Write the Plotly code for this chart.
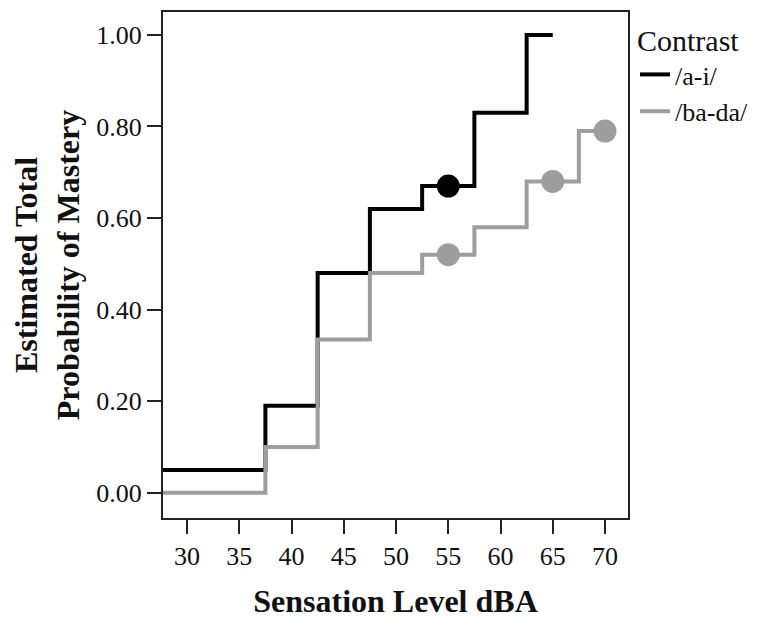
import plotly.graph_objects as go

# Step-function data (x = sensation level dBA where step begins)
levels_ai = [27.5, 37.5, 42.5, 47.5, 52.5, 57.5, 62.5, 65]
prob_ai = [0.05, 0.19, 0.48, 0.62, 0.67, 0.83, 1.00, 1.00]
levels_bada = [27.5, 37.5, 42.5, 47.5, 52.5, 57.5, 62.5, 67.5, 70]
prob_bada = [0.00, 0.10, 0.335, 0.48, 0.52, 0.58, 0.68, 0.79, 0.79]

# Censored points (markers)
cens_ai_x = [55]
cens_ai_y = [0.67]
cens_bada_x = [55, 65, 70]
cens_bada_y = [0.52, 0.68, 0.79]

x_ticks = [30, 35, 40, 45, 50, 55, 60, 65, 70]
y_ticks = [0.0, 0.2, 0.4, 0.6, 0.8, 1.0]

BLACK = "#000000"
GRAY = "#9e9e9e"
FONT = "Liberation Serif"

fig = go.Figure()
fig.add_trace(go.Scatter(x=levels_ai, y=prob_ai, mode="lines", line_shape="hv",
                         line=dict(color=BLACK, width=4), name="/a-i/"))
fig.add_trace(go.Scatter(x=levels_bada, y=prob_bada, mode="lines", line_shape="hv",
                         line=dict(color=GRAY, width=4), name="/ba-da/"))
fig.add_trace(go.Scatter(x=cens_ai_x, y=cens_ai_y, mode="markers",
                         marker=dict(color=BLACK, size=23), showlegend=False, cliponaxis=False))
fig.add_trace(go.Scatter(x=cens_bada_x, y=cens_bada_y, mode="markers",
                         marker=dict(color=GRAY, size=23), showlegend=False, cliponaxis=False))

fig.update_layout(
    width=749, height=611,
    margin=dict(l=155, r=122, t=4, b=101),
    paper_bgcolor="white", plot_bgcolor="white",
    font=dict(family=FONT, size=26, color="#111"),
    showlegend=True,
    legend=dict(x=1.015, y=1.0, xanchor="left", yanchor="top",
                title=dict(text="Contrast", font=dict(size=30, family=FONT)),
                font=dict(size=26, family=FONT), tracegroupgap=0,
                itemwidth=30, bgcolor="rgba(0,0,0,0)"),
    xaxis=dict(range=[27.7, 72.2], tickvals=x_ticks, ticks="outside", ticklen=14,
               tickwidth=2, tickcolor="#222", showline=True, linecolor="#222", linewidth=2,
               mirror=True, showgrid=False, zeroline=False, automargin=False,
               title=dict(text="<b>Sensation Level dBA</b>", font=dict(size=32, family=FONT),
                          standoff=24)),
    yaxis=dict(range=[-0.055, 1.05], tickvals=y_ticks, tickformat=".2f", ticks="outside",
               ticklen=14, tickwidth=2, tickcolor="#222", showline=True, linecolor="#222",
               linewidth=2, mirror=True, showgrid=False, zeroline=False, automargin=False,
               title=dict(text="<b>Estimated Total<br>Probability of Mastery</b>",
                          font=dict(size=32, family=FONT), standoff=24)),
)

fig.write_html("out.html")
